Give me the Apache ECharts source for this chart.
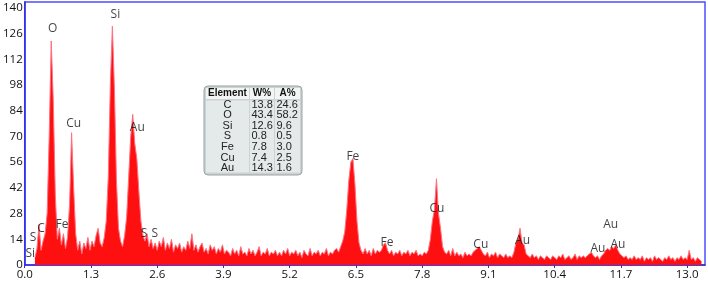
<!DOCTYPE html>
<html><head><meta charset="utf-8">
<script src="https://cdn.jsdelivr.net/npm/echarts@6/dist/echarts.min.js"></script>
<style>html,body{margin:0;padding:0;background:#fff}#c{width:708px;height:282px}</style>
</head><body><div id="c"></div>
<script>
// Spectrum counts, sampled every 0.04 keV starting at 0.00 keV (one row per keV)
const energyStart = 0.0;
const energyStep = 0.04;
const counts = [
  null,null,null,null,null,4,9,22,8,13,17,28,70,122,90,38,14,20,11,17,9,15,33,72,42,
  17,8,13,6,12,9,15,8,13,10,16,20,12,10,15,24,48,98,130,96,46,20,13,10,16,
  26,48,70,82,66,58,40,24,16,13,17,10,14,9,12,8,13,10,15,8,12,9,14,7,11,
  9,12,7,10,8,13,9,17,8,11,7,10,12,7,9,6,11,8,10,6,9,7,11,6,8,
  7,5,9,6,8,5,10,6,7,5,9,6,8,5,7,10,5,7,6,9,5,7,6,8,5,
  7,5,8,6,9,5,7,6,8,5,7,4,8,6,5,9,5,7,6,8,5,7,6,9,5,
  7,6,8,9,7,10,13,18,30,46,56,58,44,24,12,8,6,9,6,8,5,9,6,8,7,
  8,11,12,8,6,8,5,7,6,8,5,7,6,8,5,7,6,8,5,6,5,7,6,8,14,
  24,30,47,28,20,10,7,6,8,5,9,5,7,5,6,4,7,5,6,5,7,8,9,10,8,
  6,5,7,4,6,5,7,4,6,5,4,6,4,5,4,7,12,14,20,12,11,6,5,4,6,
  4,5,3,5,4,3,5,4,3,5,4,3,5,4,6,3,4,5,3,4,6,3,5,4,5,
  4,5,6,7,5,4,5,3,5,6,8,9,8,10,9,11,8,6,5,4,5,3,4,3,5,
  3,4,3,5,2,4,3,4,2,5,3,4,3,2,4,3,5,3,4,2,4,3,5,3,4,
  3,8,3,4,2,4,3,2
];
// Peak annotations: element, energy (keV), counts
const peakNames  = ['O','Si','Cu','Au','S','C','Fe','Si','S','S','Fe','Fe','Cu','Cu','Au','Au','Au','Au'];
const peakEnergy = [0.55,1.78,0.96,2.21,0.165,0.32,0.73,0.11,2.34,2.55,6.44,7.11,8.09,8.95,9.77,11.25,11.64,11.5];
const peakCounts = [128.5,136.5,77,75,15,20,22,6,17,17,59,12,30.5,11,13.5,9,11,22];
// Quantification table
const tableElements = ['C','O','Si','S','Fe','Cu','Au'];
const tableW = ['13.8','43.4','12.6','0.8','7.8','7.4','14.3'];
const tableA = ['24.6','58.2','9.6','0.5','3.0','2.5','1.6'];
const tableHeader = ['Element','W%','A%'];
// Axis ticks
const xInterval = 1.3, yInterval = 14;

const spectrum = counts.map((v, i) => [+(energyStart + i * energyStep).toFixed(2), v]);
const labels = peakNames.map((n, i) => [peakEnergy[i], peakCounts[i], n]);

const graphics = [];
const tx = 204, ty = 86, tw = 98, th = 89;
graphics.push({type:'rect', shape:{x:tx, y:ty, width:tw, height:th, r:4},
  style:{fill:'#cdd3d3', stroke:'#9aa3a3', lineWidth:1}, z:10});
const cols = [{x:206,w:43},{x:250,w:24},{x:275,w:25}];
cols.forEach(c => {
  graphics.push({type:'rect', shape:{x:c.x, y:88, width:c.w, height:11}, style:{fill:'#f3f5f5'}, z:11});
  graphics.push({type:'rect', shape:{x:c.x, y:100.5, width:c.w, height:72}, style:{fill:'#e4e9e9'}, z:11});
});
tableHeader.forEach((h, j) => {
  graphics.push({type:'text', x: cols[j].x + cols[j].w/2, y: 93.5, z:12,
    style:{text:h, font:'bold 10px "Liberation Sans", Arial', fill:'#111', textAlign:'center', textVerticalAlign:'middle'}});
});
tableElements.forEach((e, i) => {
  const y = 104.5 + i * 10.6;
  graphics.push({type:'text', x: 227.5, y: y, z:12,
    style:{text:e, font:'11px "Liberation Sans", Arial', fill:'#222', textAlign:'center', textVerticalAlign:'middle'}});
  graphics.push({type:'text', x: 251.5, y: y, z:12,
    style:{text:tableW[i], font:'11px "Liberation Sans", Arial', fill:'#222', textAlign:'left', textVerticalAlign:'middle'}});
  graphics.push({type:'text', x: 276.5, y: y, z:12,
    style:{text:tableA[i], font:'11px "Liberation Sans", Arial', fill:'#222', textAlign:'left', textVerticalAlign:'middle'}});
});

const chart = echarts.init(document.getElementById('c'), null, {renderer:'canvas'});
chart.setOption({
  animation:false,
  backgroundColor:'#fff',
  grid:{left:19.5, right:3, top:2, bottom:17, show:true, borderColor:'#4d4dff', borderWidth:1.5, backgroundColor:'transparent'},
  xAxis:{type:'value', min:0, max:13.35, interval:xInterval,
    axisLine:{lineStyle:{color:'#2b2be8', width:1.5}},
    axisTick:{show:true, length:3, lineStyle:{color:'#2b2be8'}},
    splitLine:{show:false},
    axisLabel:{margin:4, fontSize:11.5, fontFamily:'"Open Sans", sans-serif', color:'#111', showMaxLabel:false,
      formatter: v => v.toFixed(1)}},
  yAxis:{type:'value', min:0, max:143.2, interval:yInterval,
    axisLine:{show:true, lineStyle:{color:'#2b2be8', width:1.5}},
    axisTick:{show:false}, splitLine:{show:false},
    axisLabel:{margin:2, fontSize:11.5, fontFamily:'"Open Sans", sans-serif', color:'#111', showMaxLabel:false}},
  series:[
    {type:'line', data:spectrum, symbol:'none', connectNulls:false,
      lineStyle:{color:'#ff7080', width:1}, areaStyle:{color:'#ff1010', opacity:1}, z:2},
    {type:'scatter', data:labels, symbolSize:0, z:5,
      label:{show:true, position:'inside', formatter: p => p.data[2], fontSize:12,
        fontFamily:'"Open Sans", sans-serif', color:'#111'}}
  ],
  graphic: graphics
});
</script></body></html>
